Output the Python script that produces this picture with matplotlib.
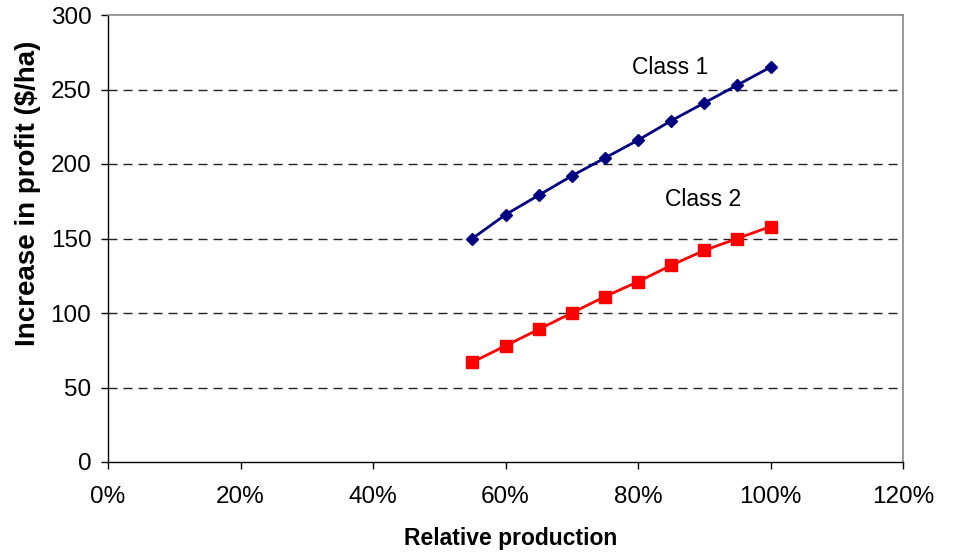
import matplotlib
matplotlib.use("Agg")
import matplotlib.pyplot as plt
from matplotlib.ticker import FuncFormatter

plt.rcParams['font.family'] = ['Liberation Sans', 'DejaVu Sans']

# Relative production (fraction) and increase in profit ($/ha)
relative_production = [0.55, 0.60, 0.65, 0.70, 0.75, 0.80, 0.85, 0.90, 0.95, 1.00]
class1_profit = [150, 166, 179, 192, 204, 216, 229, 241, 253, 265]
class2_profit = [67, 78, 89, 100, 111, 121, 132, 142, 150, 158]
x_ticks = [0, 0.2, 0.4, 0.6, 0.8, 1.0, 1.2]
y_ticks = [0, 50, 100, 150, 200, 250, 300]

fig = plt.figure(figsize=(9.55, 5.52), dpi=100)
ax = fig.add_axes([108 / 955, 90 / 552, 795 / 955, 447 / 552])

ax.set_xlim(0, 1.2)
ax.set_ylim(0, 300)

for y in y_ticks[1:-1]:
    ax.axhline(y, color='#222222', linestyle=(0, (6.5, 4.3)), linewidth=1.0, zorder=1)

ax.plot(relative_production, class1_profit, color='#000080', linewidth=2,
        marker='D', markersize=6.5, zorder=3)
ax.plot(relative_production, class2_profit, color='#ff0000', linewidth=2,
        marker='s', markersize=8, zorder=3)

ax.text(0.848, 265, 'Class 1', fontsize=16.5, ha='center', va='center')
ax.text(0.898, 176, 'Class 2', fontsize=16.5, ha='center', va='center')

ax.set_xticks(x_ticks)
ax.set_yticks(y_ticks)
ax.xaxis.set_major_formatter(FuncFormatter(lambda v, p: f"{v * 100:.0f}%"))
ax.tick_params(axis='both', direction='out', length=5, width=1, labelsize=17.5, colors='black')
ax.tick_params(axis='x', pad=12)
ax.tick_params(axis='y', pad=7)

for side in ('left', 'bottom'):
    ax.spines[side].set_color('black')
    ax.spines[side].set_linewidth(1)
for side in ('top', 'right'):
    ax.spines[side].set_color('#888888')
    ax.spines[side].set_linewidth(1.2)

ax.set_xlabel('Relative production', fontsize=16.5, fontweight='bold', labelpad=14, x=0.507)
ax.set_ylabel('Increase in profit ($/ha)', fontsize=20, fontweight='bold', labelpad=7, y=0.6)

fig.savefig('out.png', dpi=100)
